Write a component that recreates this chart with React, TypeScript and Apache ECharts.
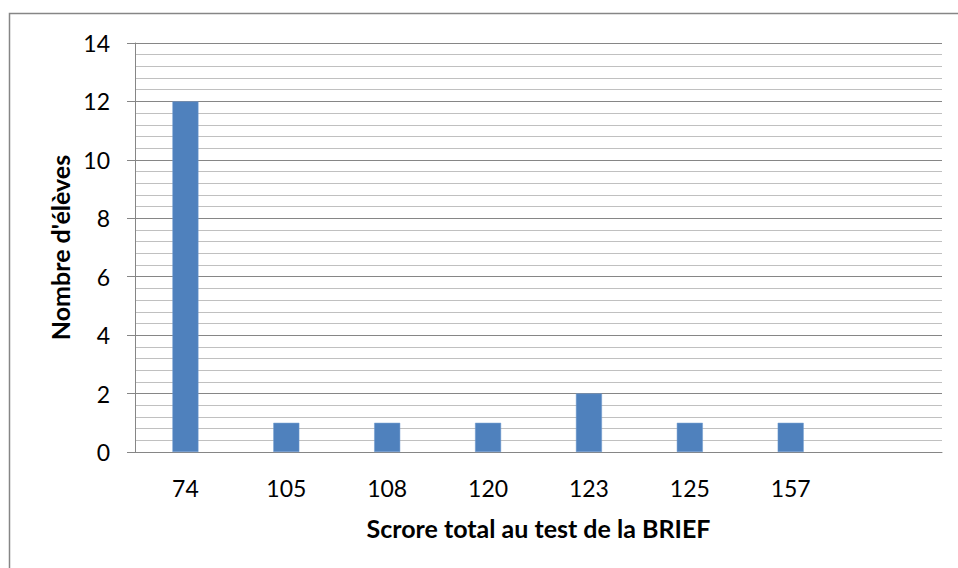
import React, { useEffect, useRef } from "react";
import * as echarts from "echarts";

const categories = ["74", "105", "108", "120", "123", "125", "157", ""];
const counts = [12, 1, 1, 1, 2, 1, 1, null];
const yTitle = "Nombre d'élèves";
const xTitle = "Scrore total au test de la BRIEF";

export default function App() {
  const ref = useRef<HTMLDivElement>(null);
  useEffect(() => {
    const chart = echarts.init(ref.current!, null, { renderer: "svg" });
    chart.setOption({
      animation: false,
      backgroundColor: "#ffffff",
      textStyle: { fontFamily: "Lato" },
      graphic: [
        {
          type: "rect",
          shape: { x: 9.5, y: 13.5, width: 980, height: 600 },
          style: { fill: "none", stroke: "#868686", lineWidth: 1.5 },
          silent: true,
        },
      ],
      grid: { left: 135, top: 43, right: 16, bottom: 116, containLabel: false },
      xAxis: {
        type: "category",
        data: categories,
        name: xTitle,
        nameLocation: "middle",
        nameGap: 63,
        nameTextStyle: { fontFamily: "Lato", fontWeight: "bold", fontSize: 25, color: "#000" },
        axisLine: { lineStyle: { color: "#868686", width: 1 } },
        axisTick: { show: false },
        axisLabel: { fontFamily: "Lato", fontSize: 23, color: "#000", margin: 24 },
        splitLine: { show: false },
      },
      yAxis: {
        type: "value",
        min: 0,
        max: 14,
        interval: 2,
        name: yTitle,
        nameLocation: "middle",
        nameGap: 60,
        nameRotate: 90,
        nameTextStyle: { fontFamily: "Lato", fontWeight: "bold", fontSize: 25, color: "#000" },
        axisLine: { show: true, lineStyle: { color: "#868686", width: 1 } },
        axisTick: { show: true, inside: false, length: 8, lineStyle: { color: "#868686" } },
        axisLabel: { fontFamily: "Lato", fontSize: 23, color: "#000", margin: 25 },
        splitLine: { show: true, lineStyle: { color: "#868686", width: 1 } },
        minorTick: { show: false, splitNumber: 5 },
        minorSplitLine: { show: true, lineStyle: { color: "#c0c0c0", width: 1 } },
      },
      series: [
        {
          type: "bar",
          data: counts,
          barWidth: 26,
          itemStyle: { color: "#4f81bd", borderColor: "#6f9ad0", borderWidth: 0.5 },
        },
      ],
    });
    return () => chart.dispose();
  }, []);
  return (
    <div
      ref={ref}
      style={{ position: "absolute", left: 0, top: 0, width: 958, height: 568 }}
    />
  );
}
